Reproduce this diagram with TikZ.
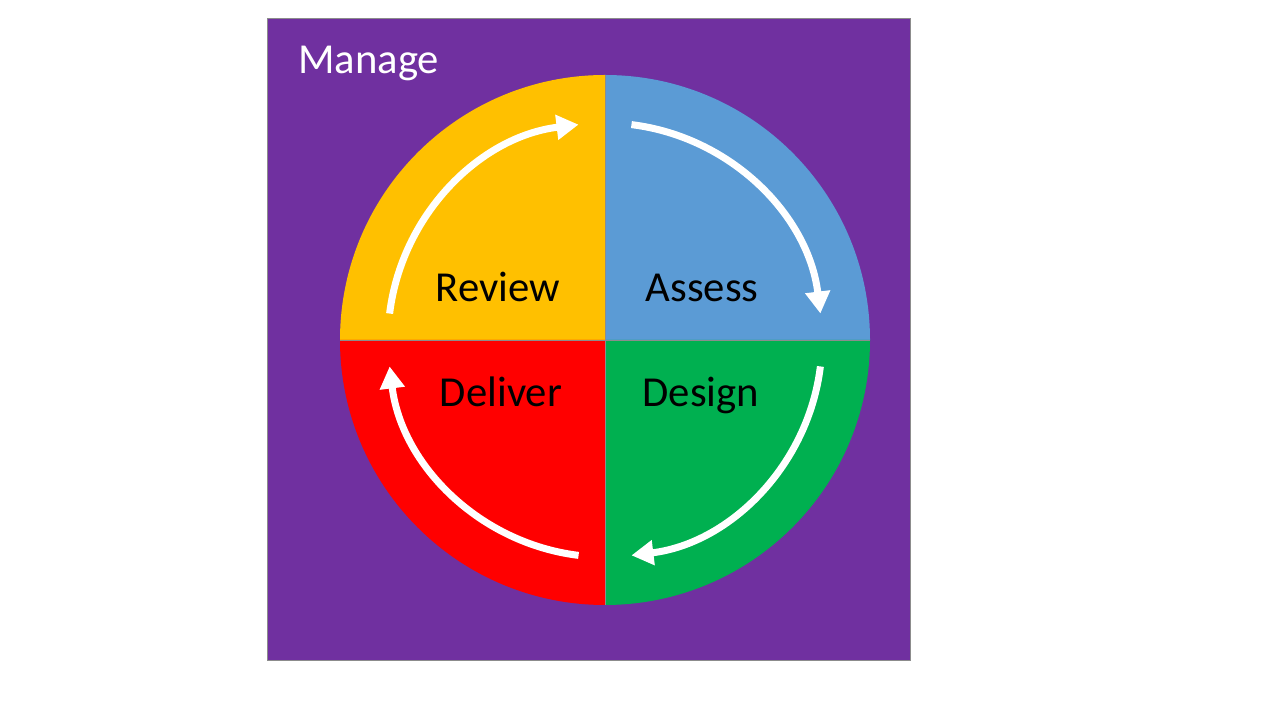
\documentclass[tikz,border=0pt]{standalone}
\usepackage{fontspec}
\setmainfont{Carlito}
\usetikzlibrary{arrows.meta}
\definecolor{mpurple}{HTML}{7030A0}
\definecolor{myellow}{HTML}{FFC000}
\definecolor{mblue}{HTML}{5B9BD5}
\definecolor{mgreen}{HTML}{00B050}
\definecolor{mred}{HTML}{FF0000}
\definecolor{mline}{HTML}{8C8C8C}
\begin{document}
\begin{tikzpicture}[x=1pt,y=1pt,
  quad/.style={draw=mline,line width=0.8pt},
  cyclearrow/.style={draw=white,line width=7pt,-{Triangle[width=24pt,length=22pt]}},
  lbl/.style={font=\fontsize{42.7}{50}\selectfont,anchor=base,inner sep=0pt}]
\useasboundingbox (0,0) rectangle (1280,720);
\fill[white] (0,0) rectangle (1280,720);
\draw[fill=mpurple,draw=mline,line width=1pt] (267,701) rectangle (910,59);
\coordinate (c) at (605,380);
\fill[mblue]   (c) -- ++(0:265) arc (0:90:265) -- cycle;
\fill[myellow] (c) -- ++(90:265) arc (90:180:265) -- cycle;
\fill[mred]    (c) -- ++(180:265) arc (180:270:265) -- cycle;
\fill[mgreen]  (c) -- ++(270:265) arc (270:360:265) -- cycle;
\draw[quad] ([shift={(90:265)}]c) -- ([shift={(270:265)}]c);
\draw[quad] ([shift={(180:265)}]c) -- ([shift={(0:265)}]c);
\node[lbl,text=white,anchor=base west] (manage) at (298,646) {Manage};
\node[lbl] (review) at (498,418) {Review};
\node[lbl] (assess) at (702,418) {Assess};
\node[lbl] (deliver) at (501,313) {Deliver};
\node[lbl] (design) at (701,313) {Design};
\draw[cyclearrow] ([shift={(83:217)}]c) arc (83:7:217);
\draw[cyclearrow] ([shift={(-7:217)}]c) arc (-7:-83:217);
\draw[cyclearrow] ([shift={(-97:217)}]c) arc (-97:-173:217);
\draw[cyclearrow] ([shift={(173:217)}]c) arc (173:97:217);
\end{tikzpicture}
\end{document}
